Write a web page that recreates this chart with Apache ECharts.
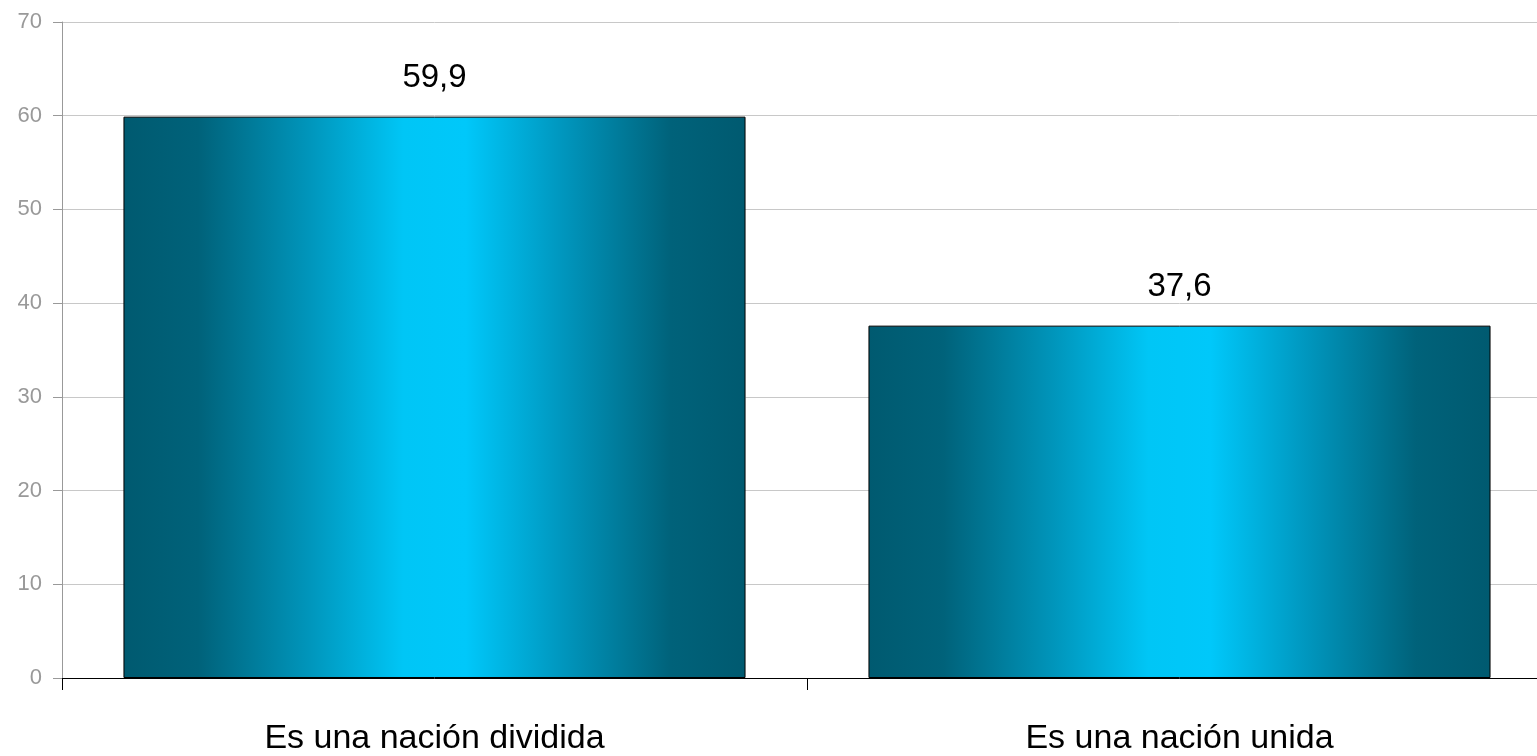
<!DOCTYPE html>
<html>
<head>
<meta charset="utf-8">
<script src="https://cdn.jsdelivr.net/npm/echarts@6/dist/echarts.min.js"></script>
<style>html,body{margin:0;padding:0;background:#fff;overflow:hidden;width:1537px;height:756px}#c{width:1552px;height:756px}</style>
</head>
<body>
<div id="c"></div>
<script>
const categories = ['Es una nación dividida', 'Es una nación unida'];
const values = [59.9, 37.6];
const yTicks = [0, 10, 20, 30, 40, 50, 60, 70];

const font = '"Liberation Sans Narrow", "Arial Narrow", "Liberation Sans", Arial, sans-serif';
const chart = echarts.init(document.getElementById('c'));
const grad = new echarts.graphic.LinearGradient(0, 0, 1, 0, [
  {offset: 0, color: '#005a70'},
  {offset: 0.12, color: '#00627a'},
  {offset: 0.3, color: '#0096bc'},
  {offset: 0.45, color: '#00c6f6'},
  {offset: 0.55, color: '#00c8fa'},
  {offset: 0.7, color: '#0098c0'},
  {offset: 0.88, color: '#00627a'},
  {offset: 1, color: '#005a70'}
]);
chart.setOption({
  animation: false,
  grid: {left: 62, top: 22, bottom: 78, right: 0, containLabel: false},
  xAxis: {
    type: 'category',
    data: categories,
    axisLine: {lineStyle: {color: '#000', width: 1}},
    axisTick: {show: true, length: 12, lineStyle: {color: '#000'}},
    axisLabel: {fontFamily: font, fontSize: 34, color: '#000', margin: 44}
  },
  yAxis: {
    type: 'value',
    min: yTicks[0],
    max: yTicks[yTicks.length - 1],
    interval: 10,
    axisLine: {show: true, lineStyle: {color: '#999'}},
    axisTick: {show: true, length: 9, lineStyle: {color: '#999'}},
    axisLabel: {fontFamily: font, fontSize: 22, color: '#999', margin: 20},
    splitLine: {lineStyle: {color: '#c8c8c8', width: 1}}
  },
  series: [{
    type: 'bar',
    data: values,
    barCategoryGap: '16.5%',
    itemStyle: {color: grad, borderColor: '#000', borderWidth: 1},
    label: {
      show: true, position: 'top', distance: 22,
      fontFamily: font, fontSize: 33, color: '#000',
      formatter: p => String(p.value).replace('.', ',')
    }
  }]
});
</script>
</body>
</html>
